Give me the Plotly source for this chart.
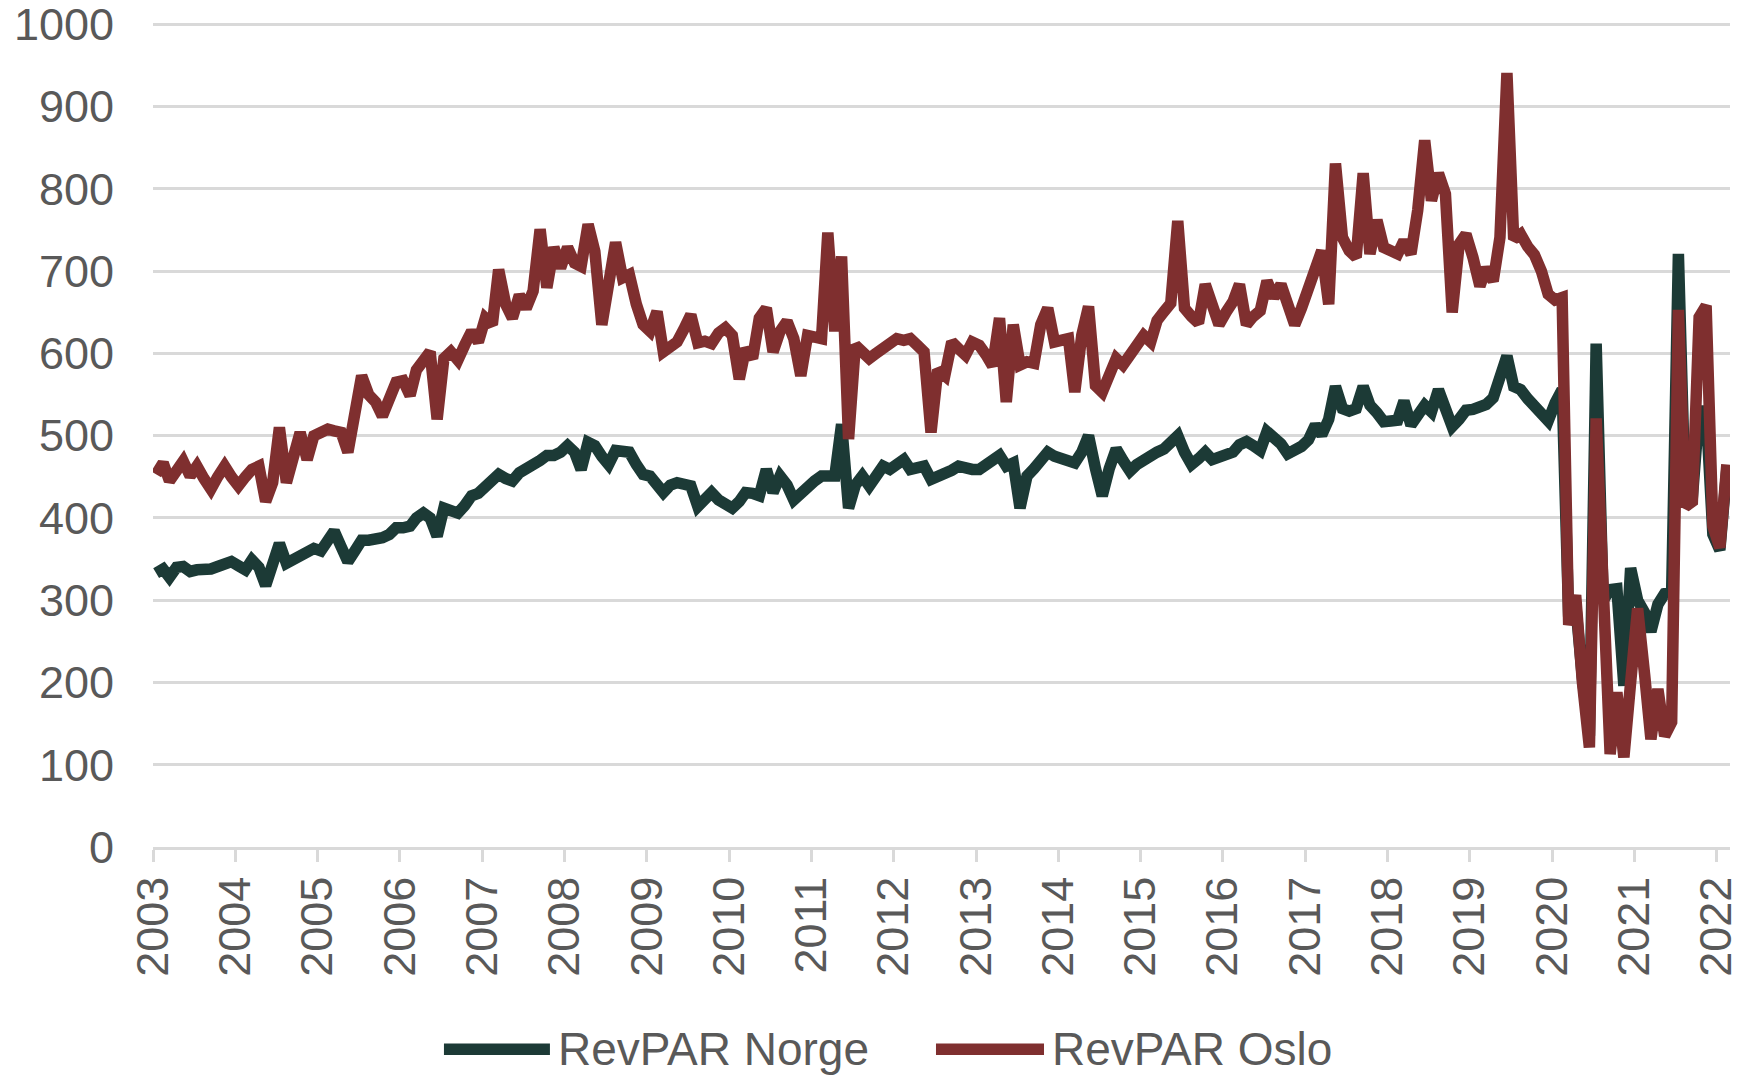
import pandas as pd
import plotly.graph_objects as go

# Monthly RevPAR, Jan 2003 - Feb 2022
oslo_by_year = {
    2003: [453, 467, 445, 458, 469, 451, 463, 448, 435, 450, 463, 450],
    2004: [439, 450, 459, 463, 420, 443, 510, 443, 480, 504, 471, 500],
    2005: [504, 508, 506, 504, 480, 525, 573, 550, 541, 524, 545, 565],
    2006: [567, 549, 580, 590, 602, 520, 594, 602, 592, 610, 627, 614],
    2007: [643, 635, 702, 660, 643, 671, 655, 676, 751, 680, 729, 704],
    2008: [729, 710, 706, 757, 724, 635, 692, 735, 692, 696, 660, 635],
    2009: [627, 651, 602, 608, 614, 630, 647, 613, 615, 612, 625, 631],
    2010: [622, 569, 606, 594, 643, 655, 602, 627, 639, 618, 573, 622],
    2011: [620, 618, 747, 627, 718, 496, 610, 600, 594, 600, 606, 614],
    2012: [618, 616, 618, 610, 602, 504, 580, 573, 614, 606, 598, 614],
    2013: [610, 598, 585, 643, 541, 635, 586, 590, 588, 635, 655, 614],
    2014: [616, 618, 553, 622, 657, 561, 553, 575, 594, 586, 598, 610],
    2015: [622, 614, 640, 651, 661, 761, 655, 645, 637, 684, 660, 635],
    2016: [650, 663, 684, 635, 645, 652, 688, 668, 684, 660, 635, 655],
    2017: [676, 700, 725, 660, 831, 741, 725, 717, 819, 721, 762, 729],
    2018: [725, 721, 737, 721, 774, 859, 786, 819, 794, 650, 733, 745],
    2019: [717, 682, 704, 688, 741, 941, 739, 745, 730, 720, 700, 672],
    2020: [665, 668, 270, 306, 200, 121, 521, 300, 113, 188, 109, 200],
    2021: [290, 210, 131, 192, 135, 152, 653, 414, 420, 644, 658, 390],
    2022: [364, 465],
}

norge_by_year = {
    2003: [333, 338, 328, 340, 341, 335, 337, 336, 338, 341, 343, 347],
    2004: [342, 337, 349, 340, 318, 345, 369, 345, 350, 353, 356, 363],
    2005: [360, 375, 384, 365, 347, 360, 373, 373, 373, 376, 380, 388],
    2006: [388, 390, 400, 406, 400, 378, 412, 410, 406, 415, 427, 430],
    2007: [437, 445, 453, 448, 445, 455, 459, 463, 470, 476, 476, 480],
    2008: [488, 480, 459, 492, 488, 475, 465, 482, 480, 480, 465, 453],
    2009: [451, 443, 431, 440, 443, 441, 439, 414, 422, 431, 422, 418],
    2010: [412, 420, 431, 430, 427, 459, 431, 451, 440, 422, 430, 441],
    2011: [445, 451, 451, 451, 514, 412, 440, 451, 439, 450, 463, 459],
    2012: [465, 471, 459, 461, 463, 447, 450, 455, 458, 463, 460, 459],
    2013: [459, 465, 471, 476, 463, 467, 412, 451, 460, 470, 480, 475],
    2014: [471, 468, 467, 480, 500, 460, 427, 460, 484, 470, 457, 465],
    2015: [471, 476, 480, 484, 490, 500, 480, 465, 472, 480, 471, 474],
    2016: [476, 480, 489, 493, 488, 482, 505, 499, 490, 478, 482, 487],
    2017: [495, 513, 501, 520, 560, 533, 530, 533, 560, 537, 528, 517],
    2018: [518, 519, 542, 513, 525, 537, 529, 556, 533, 511, 520, 531],
    2019: [532, 535, 538, 546, 574, 597, 560, 556, 545, 535, 525, 518],
    2020: [540, 556, 280, 295, 205, 135, 612, 300, 313, 314, 196, 339],
    2021: [300, 285, 262, 295, 308, 310, 721, 414, 425, 530, 530, 380],
    2022: [361, 460],
}

years = list(range(2003, 2023))
tick_labels = [str(y) for y in years]
y_ticks = list(range(0, 1001, 100))

oslo = [v for y in years for v in oslo_by_year[y]]
norge = [v for y in years for v in norge_by_year[y]]

# monthly observations plotted mid-month
months = pd.date_range("2003-01-01", periods=len(norge), freq="MS") + pd.Timedelta(days=14)

NORGE_COLOR = "#1c3a36"
OSLO_COLOR = "#7f2f2f"
TEXT_COLOR = "#595959"
GRID_COLOR = "#d9d9d9"
FONT = "Liberation Sans, Arial, Helvetica, sans-serif"
LINE_W = 11.5

fig = go.Figure()
fig.add_trace(go.Scatter(x=months, y=norge, mode="lines", name="RevPAR Norge",
                         line=dict(color=NORGE_COLOR, width=LINE_W), showlegend=False))
fig.add_trace(go.Scatter(x=months, y=oslo, mode="lines", name="RevPAR Oslo",
                         line=dict(color=OSLO_COLOR, width=LINE_W), showlegend=False))

# manual legend (long line samples like the reference)
leg_y = -0.245
legend_items = [
    (0.1845, 0.2517, 0.2555, NORGE_COLOR, "RevPAR Norge"),
    (0.4965, 0.5650, 0.5688, OSLO_COLOR, "RevPAR Oslo"),
]
shapes = []
annotations = []
for x0, x1, xt, col, txt in legend_items:
    shapes.append(dict(type="line", xref="paper", yref="paper", x0=x0, x1=x1,
                       y0=leg_y, y1=leg_y, line=dict(color=col, width=LINE_W)))
    annotations.append(dict(xref="paper", yref="paper", x=xt, y=leg_y, text=txt,
                            showarrow=False, xanchor="left", yanchor="middle",
                            font=dict(size=46, color=TEXT_COLOR, family=FONT)))

fig.update_layout(
    width=1751, height=1077,
    margin=dict(l=153, r=21, t=22, b=230, autoexpand=False),
    paper_bgcolor="white", plot_bgcolor="white",
    font=dict(family=FONT, size=45, color=TEXT_COLOR),
    shapes=shapes, annotations=annotations,
    showlegend=False,
)
fig.update_xaxes(
    type="date",
    range=["2003-01-01", "2022-03-01"],
    tickvals=[f"{y}-01-01" for y in years],
    ticktext=tick_labels,
    tickangle=-90,
    ticks="outside", ticklen=12, tickwidth=2.5, tickcolor=GRID_COLOR,
    showline=True, linecolor=GRID_COLOR, linewidth=2.5,
    showgrid=False, zeroline=False, automargin=False,
    tickfont=dict(size=45, color=TEXT_COLOR, family=FONT),
    ticklabelstandoff=-3,
)
fig.update_yaxes(
    range=[0, 1003], tickvals=y_ticks, ticktext=[str(v) for v in y_ticks],
    showgrid=True, gridcolor=GRID_COLOR, gridwidth=2.5,
    zeroline=False, showline=False, ticks="", automargin=False,
    tickfont=dict(size=45, color=TEXT_COLOR, family=FONT),
    ticklabelstandoff=38, ticklabeloverflow="allow",
)

fig.write_html(
    "out.html",
    config={"displayModeBar": False},
    post_script="document.body.style.margin='0';document.body.style.overflow='hidden';",
)
